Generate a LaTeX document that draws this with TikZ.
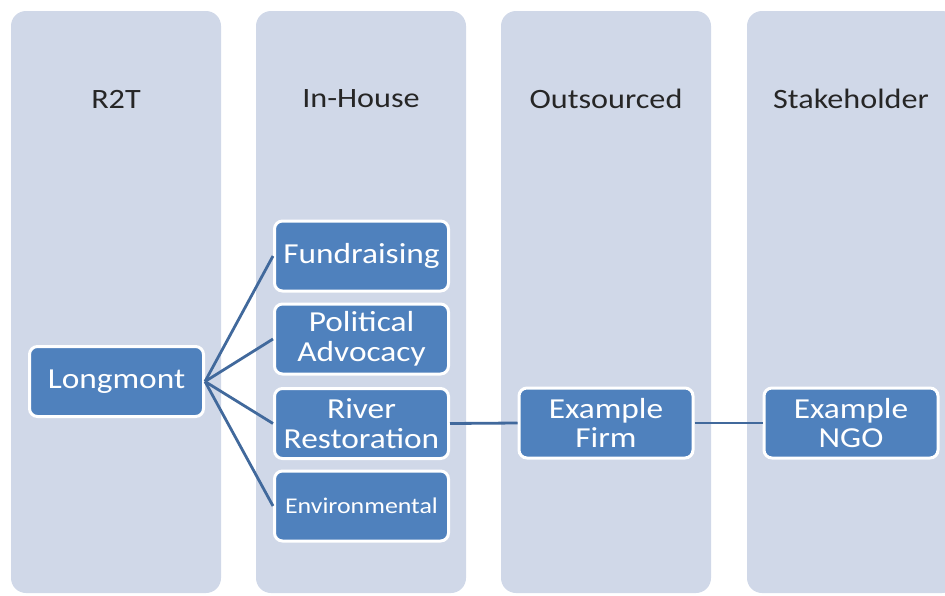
\documentclass[tikz,border=0pt]{standalone}
\usepackage{fontspec}
\setmainfont[FakeStretch=1.15]{Carlito}
\definecolor{lanefill}{HTML}{D0D8E8}
\definecolor{boxfill}{HTML}{4F81BD}
\definecolor{linkblue}{HTML}{41699C}
\definecolor{headtext}{HTML}{262626}
\tikzset{
  lane/.style={fill=lanefill, draw=none, rounded corners=15pt},
  lanehead/.style={text=headtext, font=\fontsize{28}{30}\selectfont, anchor=center, inner sep=0pt},
  item/.style={draw=white, line width=3pt, fill=boxfill, rounded corners=8pt,
    minimum width=174pt, minimum height=70pt, inner sep=0pt, text=white,
    align=center, font=\fontsize{29}{29.5}\selectfont},
  smallitem/.style={item, font=\fontsize{22.5}{24}\selectfont},
  link/.style={draw=linkblue, line width=2.8pt}
}
\begin{document}
\begin{tikzpicture}[x=1pt, y=-1pt]
  \useasboundingbox (0,0) rectangle (945,595);
  \begin{scope}
    \clip (0,0) rectangle (945,595);
    % four swim lanes
    \path[lane] (11,11) rectangle (221,593);
    \path[lane] (256,11) rectangle (466,593);
    \path[lane] (501,11) rectangle (711,593);
    \path[lane] (747,11) rectangle (957,593);
  \end{scope}
  % lane titles
  \node[lanehead] (hR2T) at (116,99) {R2T};
  \node[lanehead] (hInHouse) at (361,99) {In-House};
  \node[lanehead] (hOut) at (606,99) {Outsourced};
  \node[lanehead] (hStake) at (851,99) {Stakeholder};
  % boxes
  \node[item] (longmont) at (116.5,381.5) {Longmont};
  \node[item] (fund) at (361.5,256) {Fundraising};
  \node[item] (policy) at (361.5,339) {Political\\Advocacy};
  \node[item] (river) at (361.5,423.5) {River\\Restoration};
  \node[smallitem] (env) at (361.5,506) {Environmental};
  \node[item] (firm) at (606,423) {Example\\Firm};
  \node[item] (ngo) at (851,423) {Example\\NGO};
  % connectors
  \draw[link] (longmont.east) -- (fund.west);
  \draw[link] (longmont.east) -- (policy.west);
  \draw[link] (longmont.east) -- (river.west);
  \draw[link] (longmont.east) -- (env.west);
  \draw[link] (river.east) -- (firm.west);
  \draw[link] (firm.east) -- (ngo.west);
\end{tikzpicture}
\end{document}
